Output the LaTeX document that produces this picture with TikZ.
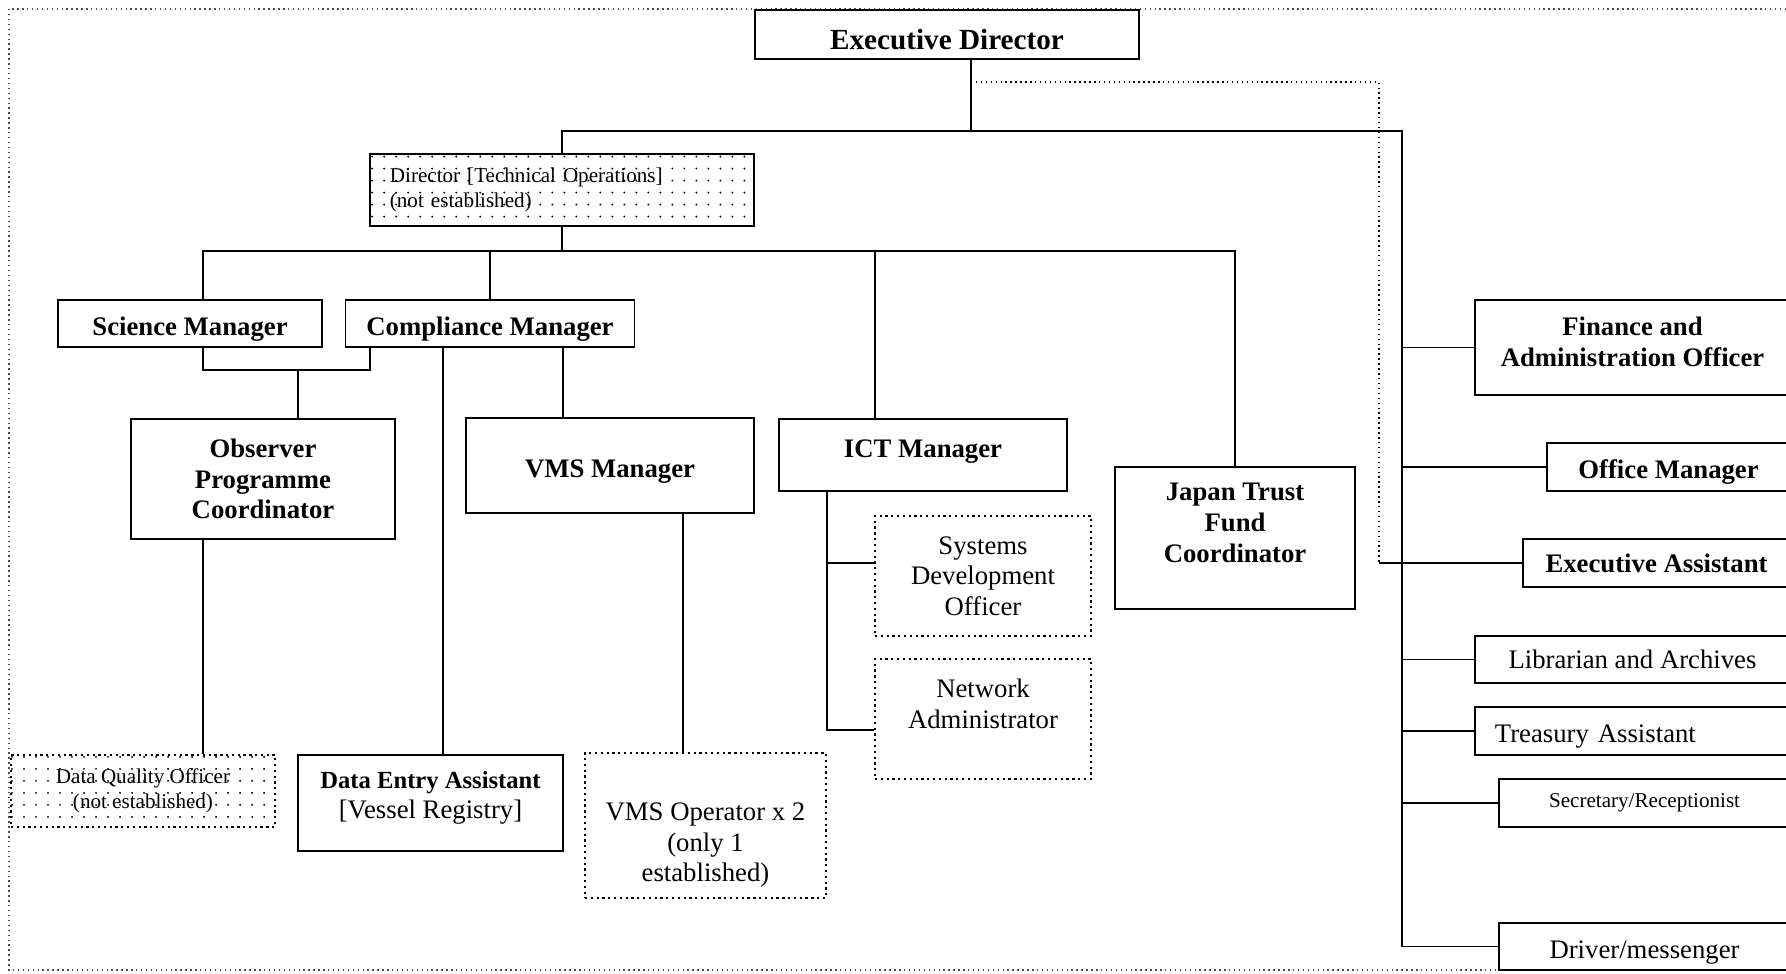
\documentclass[tikz,border=0pt]{standalone}
\usepackage{fontspec}
\setmainfont{Liberation Serif}
\usetikzlibrary{patterns.meta}
\newcommand{\fsmain}{\fontsize{7.6}{8.7}\selectfont}
\newcommand{\fssmall}{\fontsize{6}{7.1}\selectfont}
\newcommand{\fsbig}{\fontsize{8.3}{9.6}\selectfont}
\begin{document}
\begin{tikzpicture}[x=0.01cm, y=-0.01cm, line width=0.5pt,
  post/.style={draw, line width=0.65pt, inner sep=0pt, align=center, font=\fsmain\bfseries},
  plain post/.style={post, font=\fsmain},
  open post/.style={plain post, densely dotted},
  vacant post/.style={post, font=\fssmall, pattern={Dots[distance=0.12cm, radius=0.3pt]}},
  low text/.style={text height=6.8pt, text depth=0pt}]
\useasboundingbox (0,0) rectangle (1786,973);
\clip (0,0) rectangle (1786,973);
\draw[densely dotted, line width=0.4pt, black!70] (9,9) rectangle (1800,970);

% top
\node[post, font=\fsbig\bfseries, text height=8.7pt, text depth=0pt, minimum width=3.84cm, minimum height=0.49cm] (ed) at (947,34.5) {Executive Director};
\node[vacant post, minimum width=3.84cm, minimum height=0.72cm, text width=3.44cm, align=left] (dto) at (562,190) {Director [Technical Operations]\\(not established)};

% technical side
\node[post, low text, minimum width=2.64cm, minimum height=0.47cm] (sci) at (190,323.5) {Science Manager};
\node[post, low text, line width=0.3pt, minimum width=2.88cm, minimum height=0.47cm] (comp) at (490,323.5) {Compliance Manager};
\node[post, minimum width=2.64cm, minimum height=1.2cm] (obs) at (263,479) {Observer\\Programme\\Coordinator};
\node[post, low text, minimum width=2.88cm, minimum height=0.95cm] (vms) at (610,465.5) {VMS Manager};
\node[post, text height=5.2pt, text depth=4pt, minimum width=2.88cm, minimum height=0.72cm] (ict) at (923,455) {ICT Manager};
\node[post, minimum width=2.4cm, minimum height=1.42cm] (jtf) at (1235,538) {Japan Trust\\Fund\\Coordinator\\~};
\node[open post, minimum width=2.16cm, minimum height=1.2cm] (sdo) at (983,576) {Systems\\Development\\Officer};
\node[open post, minimum width=2.16cm, minimum height=1.2cm] (netadm) at (983,719) {Network\\Administrator\\~};
\node[vacant post, densely dotted, minimum width=2.64cm, minimum height=0.72cm] (dqo) at (143,791) {Data Quality Officer\\(not established)};
\node[plain post, minimum width=2.65cm, minimum height=0.96cm] (dea) at (430.5,803) {\fontsize{7}{8.7}\selectfont\bfseries Data Entry Assistant\\{}[Vessel Registry]\rule[-4.5pt]{0pt}{0pt}};
\node[open post, minimum width=2.41cm, minimum height=1.45cm] (vmsop) at (705.5,825.5) {\rule{0pt}{16.2pt}VMS Operator x 2\\(only 1\\established)};

% support side
\node[post, minimum width=3.15cm, minimum height=0.95cm] (fin) at (1632.5,347.5) {Finance and\\Administration Officer\rule[-3.4pt]{0pt}{0pt}};
\node[post, low text, minimum width=2.43cm, minimum height=0.48cm] (offm) at (1668.5,467) {Office Manager};
\node[post, minimum width=2.67cm, minimum height=0.48cm] (exa) at (1656.5,563) {Executive Assistant};
\node[plain post, minimum width=3.15cm, minimum height=0.47cm] (lib) at (1632.5,659.5) {Librarian and Archives};
\node[plain post, low text, minimum width=3.15cm, minimum height=0.48cm, text width=2.75cm, align=left] (treas) at (1632.5,731) {Treasury Assistant};
\node[plain post, font=\fssmall, minimum width=2.91cm, minimum height=0.48cm] (sec) at (1644.5,803) {Secretary/Receptionist};
\node[plain post, low text, minimum width=2.91cm, minimum height=0.47cm] (drv) at (1644.5,946.5) {Driver/messenger};

% junctions
\coordinate (edbus) at (971,131);
\coordinate (rbus) at (1402,131);
\coordinate (dotbus) at (1379,82);
\coordinate (bus2l) at (203,251);
\coordinate (ictx) at (875,251);
\coordinate (scj) at (203,370);
\coordinate (cmj) at (370,370);
\coordinate (obsj) at (298,370);
\coordinate (deax) at (443,0);
\coordinate (vmsx) at (563,0);
\coordinate (opx) at (683,0);
\coordinate (sdoj) at (827,563);
\coordinate (naj) at (827,730);

% lines
\draw (ed.south -| edbus) -- (edbus);
\draw (dto.north) |- (rbus) -- (rbus |- drv.west) -- (drv.west);
\foreach \n in {fin,offm,exa,lib,treas,sec}
  \draw (rbus |- \n.west) -- (\n.west);
\draw[densely dotted, line width=0.4pt] (edbus |- dotbus) -- (dotbus) -- (dotbus |- exa.west);
\draw (dotbus |- exa.west) -- (rbus |- exa.west);
\draw (dto.south) -- (dto.south |- bus2l);
\draw (bus2l |- sci.north) -- (bus2l) -- (jtf.north |- bus2l) -- (jtf.north);
\draw (comp.north |- bus2l) -- (comp.north);
\draw (ictx) -- (ictx |- ict.north);
\draw (scj |- sci.south) -- (scj) -- (cmj) -- (cmj |- comp.south);
\draw (obsj) -- (obsj |- obs.north);
\draw (scj |- obs.south) -- (scj |- dqo.north);
\draw (deax |- comp.south) -- (deax |- dea.north);
\draw (vmsx |- comp.south) -- (vmsx |- vms.north);
\draw (opx |- vms.south) -- (opx |- vmsop.north);
\draw (sdoj |- ict.south) -- (naj) -- (naj -| netadm.west);
\draw (sdoj) -- (sdoj -| sdo.west);
\end{tikzpicture}
\end{document}
